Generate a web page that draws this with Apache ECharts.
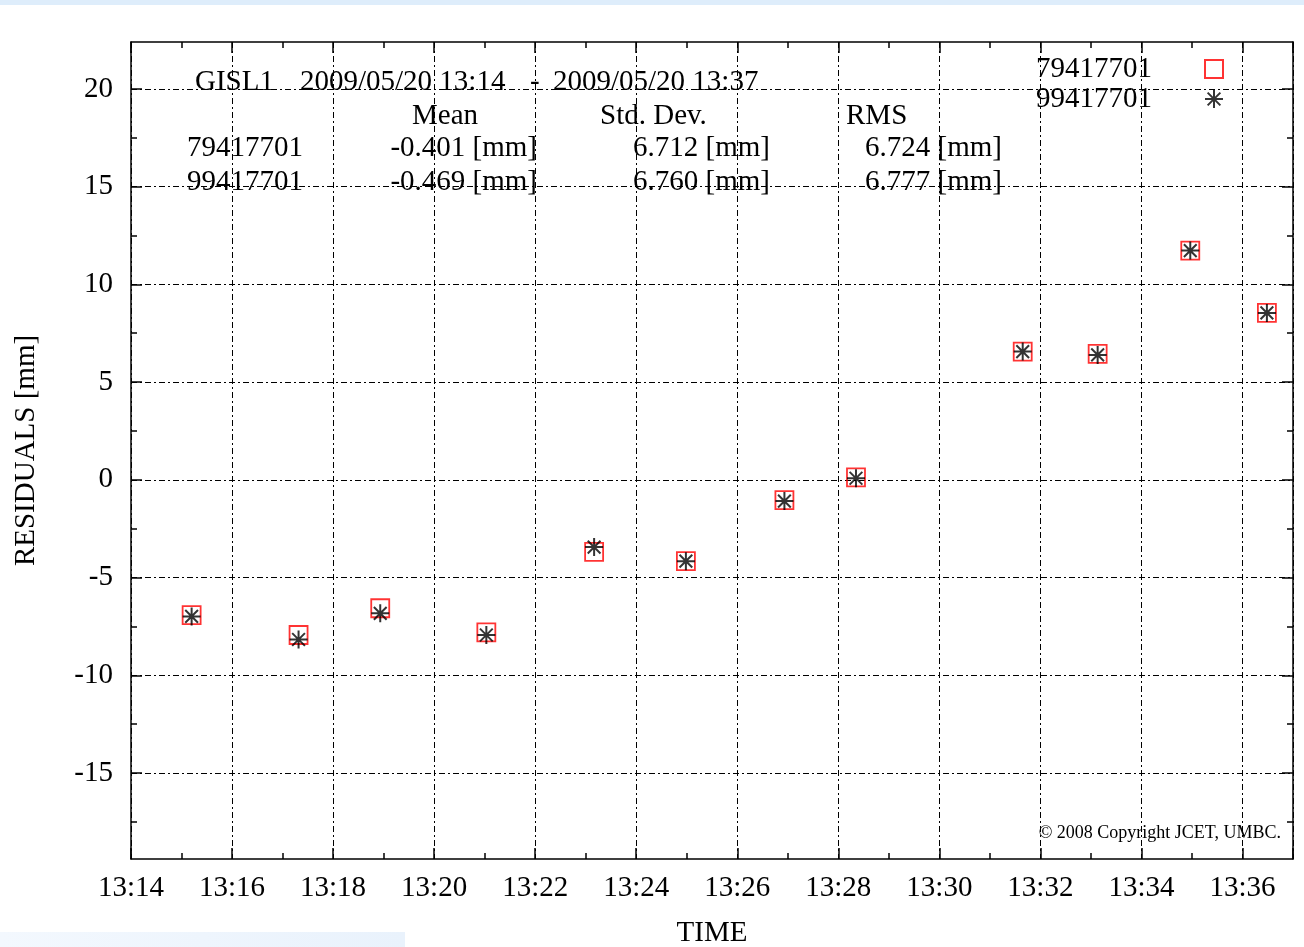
<!DOCTYPE html>
<html>
<head>
<meta charset="utf-8">
<script src="https://cdn.jsdelivr.net/npm/echarts@6/dist/echarts.min.js"></script>
<style>
html,body{margin:0;padding:0;background:#fff;}
#chart{width:1304px;height:947px;}
</style>
</head>
<body>
<div id="chart"></div>
<script>
// ---- data ----
const times = ['13:15:12','13:17:19','13:18:56','13:21:02','13:23:10','13:24:59','13:26:56','13:28:21','13:31:39','13:33:08','13:34:58','13:36:29'];
const seriesNames = ['79417701', '99417701'];
const residuals79417701 = [-6.92, -7.94, -6.57, -7.81, -3.69, -4.16, -1.04, 0.13, 6.56, 6.44, 11.73, 8.54];
const residuals99417701 = [-6.99, -8.17, -6.83, -7.94, -3.44, -4.16, -1.09, 0.08, 6.56, 6.39, 11.73, 8.54];
const yMajorTicks = [-15, -10, -5, 0, 5, 10, 15, 20];
const yMinorTicks = [-17.5, -12.5, -7.5, -2.5, 2.5, 7.5, 12.5, 17.5];
const xMin = '13:14', xMax = '13:37';
const yMin = -19.4, yMax = 22.4;
const headerLine = ['GISL1', '2009/05/20 13:14', '-', '2009/05/20 13:37'];
const statHeaders = ['Mean', 'Std. Dev.', 'RMS'];
const statRows = [
  ['79417701', '-0.401 [mm]', '6.712 [mm]', '6.724 [mm]'],
  ['99417701', '-0.469 [mm]', '6.760 [mm]', '6.777 [mm]']
];
const copyright = '\u00A9 2008 Copyright JCET, UMBC.';

// ---- helpers ----
function toMin(t){ const p = t.split(':').map(Number); return p[0]*60 + p[1] + (p[2]||0)/60; }
function fmtMin(v){ const h = Math.floor(v/60), m = Math.round(v - h*60); return h + ':' + (m<10?'0':'') + m; }

const FONT = 'Liberation Serif';
const FS = 29;
const squarePath = 'path://M0,0H10V10H0Z';
const starPath = 'path://M5,0V10M0,5H10M1.46,1.46L8.54,8.54M8.54,1.46L1.46,8.54';
const gridLine = {show:true, lineStyle:{color:'#000', width:1, type:[6,3,2,3]}};
const axLine = {show:true, onZero:false, lineStyle:{color:'#000', width:1.5}};

const chart = echarts.init(document.getElementById('chart'), null, {renderer:'canvas'});

const xCommon = {type:'value', min:toMin(xMin), max:toMin(xMax), interval:2};
const yCommon = {type:'value', min:yMin, max:yMax};

const graphics = [
  {type:'rect', shape:{x:0,y:0,width:1304,height:5}, style:{fill:'#deedfb'}, silent:true, z:-10},
  {type:'rect', shape:{x:0,y:932,width:405,height:15}, style:{fill:new echarts.graphic.LinearGradient(0,0,1,0,[{offset:0,color:'#f3f8fe'},{offset:1,color:'#e9f2fc'}])}, silent:true, z:-10}
];
function txt(s, x, y, align, size){
  graphics.push({type:'text', x:x, y:y, silent:true, z:50, style:{text:s, fill:'#000', font: (size||FS)+'px "'+FONT+'"', align:align||'left', verticalAlign:'middle'}});
}
// header line
txt(headerLine[0], 195, 82);
txt(headerLine[1], 300, 82);
txt(headerLine[2], 530, 82);
txt(headerLine[3], 553, 82);
// stats headers
txt(statHeaders[0], 412, 116);
txt(statHeaders[1], 600, 116);
txt(statHeaders[2], 846, 116);
// stats rows
statRows.forEach(function(r, i){
  const y = 148 + i*34;
  txt(r[0], 187, y);
  txt(r[1], 537, y, 'right');
  txt(r[2], 770, y, 'right');
  txt(r[3], 1002, y, 'right');
});
txt(copyright, 1281, 833, 'right', 18);

const option = {
  animation:false,
  backgroundColor:'#fff',
  textStyle:{fontFamily:FONT},
  grid:{left:131, right:11, top:42, bottom:88, containLabel:false, outerBoundsMode:'none'},
  legend:{
    orient:'vertical', right:80, top:54, align:'right', padding:0,
    itemWidth:18, itemHeight:18, itemGap:0, symbolKeepAspect:true,
    textStyle:{fontFamily:FONT, fontSize:FS, color:'#000', lineHeight:30, padding:[0,48,0,0]},
    data:[{name:seriesNames[0], icon:squarePath},{name:seriesNames[1], icon:starPath}]
  },
  xAxis:[
    Object.assign({}, xCommon, {
      position:'bottom',
      axisLine:axLine,
      axisTick:{show:true, inside:true, length:11, lineStyle:{color:'#000', width:1.5}},
      minorTick:{show:true, splitNumber:2, length:6, lineStyle:{color:'#000', width:1.5}},
      axisLabel:{show:true, margin:15, color:'#000', fontFamily:FONT, fontSize:FS, formatter:fmtMin},
      splitLine:gridLine,
      name:'TIME', nameLocation:'middle', nameGap:60,
      nameTextStyle:{color:'#000', fontFamily:FONT, fontSize:FS}
    }),
    Object.assign({}, xCommon, {
      position:'top',
      axisLine:axLine,
      axisTick:{show:true, inside:true, length:11, lineStyle:{color:'#000', width:1.5}},
      minorTick:{show:true, splitNumber:2, length:6, lineStyle:{color:'#000', width:1.5}},
      axisLabel:{show:false},
      splitLine:{show:false}
    })
  ],
  yAxis:[
    Object.assign({}, yCommon, {
      position:'left', splitNumber:8,
      axisLine:axLine,
      axisTick:{show:true, inside:true, length:11, customValues:yMajorTicks, lineStyle:{color:'#000', width:1.5}},
      axisLabel:{show:true, margin:18, color:'#000', fontFamily:FONT, fontSize:FS, customValues:yMajorTicks},
      splitLine:gridLine,
      name:'RESIDUALS [mm]', nameLocation:'middle', nameGap:90,
      nameTextStyle:{color:'#000', fontFamily:FONT, fontSize:FS}
    }),
    Object.assign({}, yCommon, {
      position:'left',
      axisLine:{show:false},
      axisTick:{show:true, inside:true, length:6, customValues:yMinorTicks, lineStyle:{color:'#000', width:1.5}},
      axisLabel:{show:false}, splitLine:{show:false}
    }),
    Object.assign({}, yCommon, {
      position:'right',
      axisLine:axLine,
      axisTick:{show:true, inside:true, length:11, customValues:yMajorTicks, lineStyle:{color:'#000', width:1.5}},
      axisLabel:{show:false}, splitLine:{show:false}
    }),
    Object.assign({}, yCommon, {
      position:'right',
      axisLine:{show:false},
      axisTick:{show:true, inside:true, length:6, customValues:yMinorTicks, lineStyle:{color:'#000', width:1.5}},
      axisLabel:{show:false}, splitLine:{show:false}
    })
  ],
  series:[
    {
      name:seriesNames[0], type:'scatter', xAxisIndex:0, yAxisIndex:0,
      symbol:squarePath, symbolSize:18, symbolKeepAspect:true,
      itemStyle:{color:'rgba(0,0,0,0)', borderColor:'#ff0000', borderWidth:1.8},
      data: times.map(function(t,i){ return [toMin(t), residuals79417701[i]]; }),
      z:3
    },
    {
      name:seriesNames[1], type:'scatter', xAxisIndex:0, yAxisIndex:0,
      symbol:starPath, symbolSize:18, symbolKeepAspect:true,
      itemStyle:{color:'rgba(0,0,0,0)', borderColor:'#000', borderWidth:2},
      data: times.map(function(t,i){ return [toMin(t), residuals99417701[i]]; }),
      z:4
    }
  ],
  graphic:graphics
};
chart.setOption(option);
</script>
</body>
</html>
